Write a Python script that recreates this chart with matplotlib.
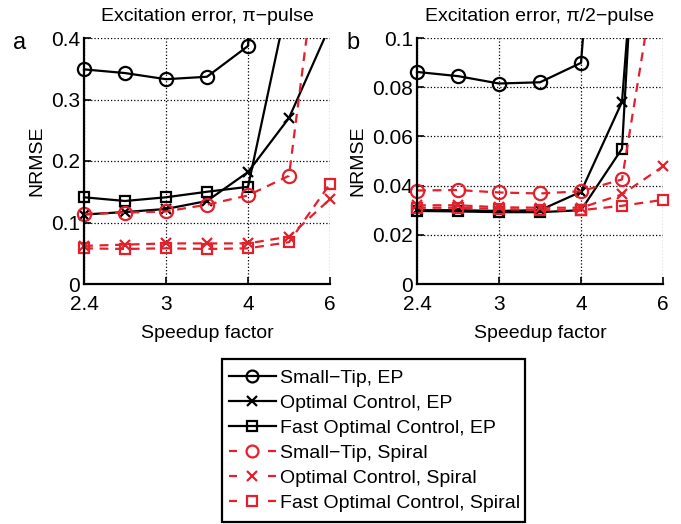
import numpy as np
import matplotlib
matplotlib.use("Agg")
import matplotlib.pyplot as plt
from matplotlib.transforms import Bbox, TransformedBbox
from matplotlib.patches import Rectangle

plt.rcParams['font.family'] = ['Liberation Sans', 'DejaVu Sans']

# ---- data ----
speedup = [2.4, 12/4.5, 3.0, 12/3.5, 4.0, 4.8, 6.0]
xticks = [2.4, 3, 4, 6]
xticklabels = ["2.4", "3", "4", "6"]

# panel a (pi-pulse)
a_st_ep = [0.349, 0.343, 0.333, 0.337, 0.387, 1.30, 2.00]
a_oc_ep = [0.113, 0.117, 0.122, 0.135, 0.182, 0.270, 0.420]
a_foc_ep = [0.141, 0.135, 0.141, 0.150, 0.158, 0.470, 1.00]
a_st_sp = [0.114, 0.116, 0.118, 0.129, 0.144, 0.176, 0.700]
a_oc_sp = [0.062, 0.064, 0.066, 0.066, 0.066, 0.077, 0.138]
a_foc_sp = [0.058, 0.057, 0.058, 0.057, 0.058, 0.068, 0.163]
a_yticks = [0, 0.1, 0.2, 0.3, 0.4]
a_yticklabels = ["0", "0.1", "0.2", "0.3", "0.4"]

# panel b (pi/2-pulse)
b_st_ep = [0.0862, 0.0845, 0.0815, 0.0820, 0.0899, 0.300, 0.500]
b_oc_ep = [0.0300, 0.0300, 0.0297, 0.0300, 0.0375, 0.0740, 0.290]
b_foc_ep = [0.0297, 0.0295, 0.0292, 0.0292, 0.0300, 0.0550, 0.350]
b_st_sp = [0.0380, 0.0382, 0.0372, 0.0368, 0.0377, 0.0425, 0.145]
b_oc_sp = [0.0320, 0.0320, 0.0312, 0.0310, 0.0310, 0.0364, 0.0478]
b_foc_sp = [0.0310, 0.0310, 0.0305, 0.0300, 0.0300, 0.0318, 0.0342]
b_yticks = [0, 0.02, 0.04, 0.06, 0.08, 0.1]
b_yticklabels = ["0", "0.02", "0.04", "0.06", "0.08", "0.1"]

labels = ["Small\u2212Tip, EP", "Optimal Control, EP", "Fast Optimal Control, EP",
          "Small\u2212Tip, Spiral", "Optimal Control, Spiral", "Fast Optimal Control, Spiral"]

RED = '#e3202b'
FS = 14
TFS = 15
LW = 1.6

fig = plt.figure(figsize=(6.81, 5.24), dpi=100)
W, H = 681, 524

def axrect(x0, x1, ytop, ybot):
    return [x0 / W, 1 - ybot / H, (x1 - x0) / W, (ybot - ytop) / H]

ax_a = fig.add_axes(axrect(84, 330, 38, 284))
ax_b = fig.add_axes(axrect(417, 663, 38, 284))

styles = [
    dict(color='black', ls='-', marker='o', ms=9.5),
    dict(color='black', ls='-', marker='x', ms=7.5),
    dict(color='black', ls='-', marker='s', ms=7.5),
    dict(color=RED, ls=(0, (4, 3)), marker='o', ms=9.5),
    dict(color=RED, ls=(0, (4, 3)), marker='x', ms=7.5),
    dict(color=RED, ls=(0, (4, 3)), marker='s', ms=7.5),
]

def draw(ax, series, ymax, yticks, yticklabels, title, letter):
    ax.set_xscale('function', functions=(lambda x: -1.0 / np.asarray(x, float),
                                         lambda y: -1.0 / np.asarray(y, float)))
    handles = []
    for ys, st in zip(series, styles):
        ln, = ax.plot(speedup, ys, color=st['color'], linestyle=st['ls'], lw=LW,
                      marker=st['marker'], ms=st['ms'], mfc='none', mew=1.6,
                      mec=st['color'])
        handles.append(ln)
        ln.set_clip_box(TransformedBbox(Bbox([[-0.1, 0], [1.1, 1]]), ax.transAxes))
    ax.set_xlim(2.4, 6)
    ax.set_ylim(0, ymax)
    ax.set_xticks(xticks)
    ax.set_xticklabels(xticklabels)
    ax.set_yticks(yticks)
    ax.set_yticklabels(yticklabels)
    ax.minorticks_off()
    for s in ['top', 'right']:
        ax.spines[s].set_visible(False)
    for s in ['left', 'bottom']:
        ax.spines[s].set_linewidth(1.6)
        ax.spines[s].set_zorder(5)
    ax.tick_params(direction='in', length=5, width=1.2, labelsize=TFS)
    ax.tick_params(axis='x', pad=8)
    ax.tick_params(axis='y', pad=3)
    ax.grid(True, linestyle=':', color='black', lw=0.9)
    ax.set_axisbelow(True)
    ax.set_title(title, fontsize=FS, pad=12)
    ax.set_ylabel("NRMSE", fontsize=FS, labelpad=4)
    ax.set_xlabel("Speedup factor", fontsize=FS, labelpad=8)
    ax.text(-0.26, 0.955, letter, transform=ax.transAxes, fontsize=17,
            ha='center', va='baseline')
    return handles

handles = draw(ax_a, [a_st_ep, a_oc_ep, a_foc_ep, a_st_sp, a_oc_sp, a_foc_sp],
               0.4, a_yticks, a_yticklabels, "Excitation error, \u03c0\u2212pulse", "a")
draw(ax_b, [b_st_ep, b_oc_ep, b_foc_ep, b_st_sp, b_oc_sp, b_foc_sp],
     0.1, b_yticks, b_yticklabels, "Excitation error, \u03c0/2\u2212pulse", "b")

# legend box
fig.patches.append(Rectangle((222 / W, 2 / H), (525 - 222) / W, (522 - 359) / H,
                             transform=fig.transFigure, fill=False,
                             edgecolor='black', lw=1.6))
leg = fig.legend(handles, labels, loc='upper left',
                 bbox_to_anchor=(229 / W, 1 - 369 / H), borderaxespad=0,
                 fontsize=FS, frameon=False, handlelength=2.4, handletextpad=0.2,
                 labelspacing=0.38, borderpad=0, markerscale=0.9)
# red legend handles: short dash, marker, short dash
for lg in leg.get_lines()[3:]:
    on = 8 * 0.72 / LW
    off = 31 * 0.72 / LW
    lg.set_linestyle((0, (on, off)))

fig.savefig("out.png", dpi=100)
